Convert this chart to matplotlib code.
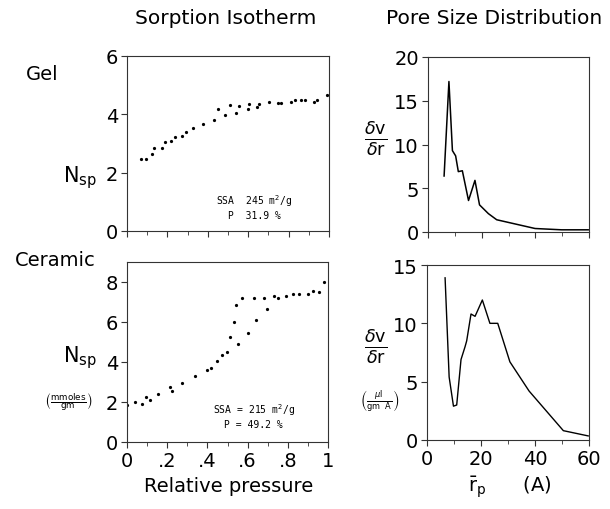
import matplotlib
matplotlib.use("Agg")
import matplotlib.pyplot as plt
from matplotlib.ticker import MultipleLocator, FixedLocator, FixedFormatter

# ---------------- data ----------------
gel_p = [0.068, 0.092, 0.122, 0.135, 0.172, 0.190, 0.218, 0.238, 0.271, 0.290,
         0.328, 0.378, 0.432, 0.452, 0.485, 0.510, 0.538, 0.556, 0.597, 0.604,
         0.645, 0.653, 0.703, 0.747, 0.762, 0.812, 0.832, 0.861, 0.881, 0.927,
         0.939, 0.989]
gel_n = [2.47, 2.47, 2.63, 2.84, 2.84, 3.06, 3.08, 3.23, 3.25, 3.38,
         3.52, 3.66, 3.81, 4.20, 3.98, 4.32, 4.04, 4.27, 4.20, 4.34,
         4.26, 4.35, 4.42, 4.38, 4.38, 4.43, 4.50, 4.50, 4.49, 4.41,
         4.48, 4.66]

cer_p = [0.000, 0.040, 0.073, 0.093, 0.114, 0.156, 0.214, 0.222, 0.275, 0.338,
         0.396, 0.418, 0.446, 0.471, 0.496, 0.512, 0.534, 0.541, 0.554, 0.574,
         0.604, 0.630, 0.642, 0.680, 0.695, 0.733, 0.750, 0.791, 0.827, 0.857,
         0.899, 0.927, 0.957, 0.980]
cer_n = [1.85, 2.02, 1.90, 2.23, 2.12, 2.40, 2.77, 2.57, 2.95, 3.28,
         3.60, 3.70, 4.07, 4.37, 4.48, 5.23, 6.02, 6.85, 4.88, 7.18,
         5.45, 7.20, 6.10, 7.20, 6.65, 7.32, 7.18, 7.32, 7.40, 7.42,
         7.40, 7.53, 7.52, 7.98]

gel_r = [6.0, 7.8, 9.1, 10.3, 11.3, 12.8, 15.1, 17.5, 19.2, 22.5, 25.6, 30.6, 39.9, 49.8, 59.7]
gel_dv = [6.4, 17.2, 9.3, 8.7, 6.9, 7.0, 3.6, 5.9, 3.1, 2.1, 1.4, 1.05, 0.4, 0.25, 0.25]

cer_r = [6.7, 8.2, 9.8, 11.0, 12.6, 14.1, 14.7, 16.3, 17.8, 20.5, 23.3, 26.2, 30.7, 37.8, 50.5, 59.7]
cer_dv = [13.9, 5.4, 2.9, 3.0, 6.9, 8.0, 8.5, 10.8, 10.6, 12.0, 10.0, 10.0, 6.7, 4.2, 0.8, 0.35]

iso_ticks = [0, 0.2, 0.4, 0.6, 0.8, 1.0]
iso_ticklabels = ["0", ".2", ".4", ".6", ".8", "1"]
psd_ticks = [0, 20, 40, 60]
psd_ticklabels = ["0", "20", "40", "60"]

# ---------------- figure ----------------
W, H = 610, 510
fig = plt.figure(figsize=(W / 100, H / 100), dpi=100)
plt.rcParams['font.family'] = ['DejaVu Sans']


def add_ax(left, right, top, bottom):
    return fig.add_axes([left / W, 1 - bottom / H, (right - left) / W, (bottom - top) / H])


def fpos(px, py):
    return px / W, 1 - py / H


def style(ax):
    for s in ax.spines.values():
        s.set_linewidth(0.8)
        s.set_color('#333333')
    ax.tick_params(which='both', direction='out', labelsize=14, pad=2.5, color='#333333')
    ax.tick_params(which='major', length=4)
    ax.tick_params(which='minor', length=3)


ax1 = add_ax(127, 329, 57, 232)
ax2 = add_ax(127, 328, 263, 443)
ax3 = add_ax(428, 589, 58, 233)
ax4 = add_ax(427, 589, 266, 441)

small = dict(fontsize=7, family='DejaVu Sans Mono', ha='center', va='center')

# Gel isotherm
ax1.plot(gel_p, gel_n, ls='none', marker='.', ms=2.6, color='black')
ax1.set_xlim(0, 1)
ax1.set_ylim(0, 6)
ax1.set_yticks([0, 2, 4, 6])
ax1.xaxis.set_major_locator(FixedLocator(iso_ticks))
ax1.xaxis.set_minor_locator(MultipleLocator(0.1))
ax1.set_xticklabels([])
ax1.text(0.63, 0.175, "SSA  245 m$^{2}$/g", transform=ax1.transAxes, **small)
ax1.text(0.63, 0.09, "P  31.9 %", transform=ax1.transAxes, **small)

# Ceramic isotherm
ax2.plot(cer_p, cer_n, ls='none', marker='.', ms=2.6, color='black')
ax2.set_xlim(0, 1)
ax2.set_ylim(0, 9)
ax2.set_yticks([0, 2, 4, 6, 8])
ax2.xaxis.set_major_locator(FixedLocator(iso_ticks))
ax2.xaxis.set_major_formatter(FixedFormatter(iso_ticklabels))
ax2.xaxis.set_minor_locator(MultipleLocator(0.1))
ax2.text(0.63, 0.183, "SSA = 215 m$^{2}$/g", transform=ax2.transAxes, **small)
ax2.text(0.63, 0.10, "P = 49.2 %", transform=ax2.transAxes, **small)

# Gel PSD
ax3.plot(gel_r, gel_dv, color='black', lw=1.1)
ax3.set_xlim(0, 60)
ax3.set_ylim(0, 20)
ax3.set_yticks([0, 5, 10, 15, 20])
ax3.xaxis.set_major_locator(FixedLocator(psd_ticks))
ax3.xaxis.set_minor_locator(MultipleLocator(10))
ax3.set_xticklabels([])

# Ceramic PSD
ax4.plot(cer_r, cer_dv, color='black', lw=1.0)
ax4.set_xlim(0, 60)
ax4.set_ylim(0, 15)
ax4.set_yticks([0, 5, 10, 15])
ax4.xaxis.set_major_locator(FixedLocator(psd_ticks))
ax4.xaxis.set_major_formatter(FixedFormatter(psd_ticklabels))
ax4.xaxis.set_minor_locator(MultipleLocator(10))

for ax in (ax1, ax2, ax3, ax4):
    style(ax)

# ---------------- figure texts ----------------
fig.text(*fpos(226, 18), "Sorption Isotherm", ha='center', va='center', fontsize=14.5)
fig.text(*fpos(494, 18), "Pore Size Distribution", ha='center', va='center', fontsize=14.5)
fig.text(*fpos(42, 75), "Gel", ha='center', va='center', fontsize=14)
fig.text(*fpos(55, 261), "Ceramic", ha='center', va='center', fontsize=14)
fig.text(*fpos(80, 178), r"N$_{\mathrm{sp}}$", ha='center', va='center', fontsize=15)
fig.text(*fpos(80, 358), r"N$_{\mathrm{sp}}$", ha='center', va='center', fontsize=15)
fig.text(*fpos(68, 402), r"$\left(\frac{\mathrm{mmoles}}{\mathrm{gm}}\right)$", ha='center', va='center', fontsize=9)
fig.text(*fpos(376, 139), r"$\frac{\delta\mathrm{v}}{\delta\mathrm{r}}$", ha='center', va='center', fontsize=18)
fig.text(*fpos(376, 347), r"$\frac{\delta\mathrm{v}}{\delta\mathrm{r}}$", ha='center', va='center', fontsize=18)
fig.text(*fpos(380, 401), r"$\left(\frac{\mu\mathrm{l}}{\mathrm{gm}\ \ \mathrm{A}}\right)$", ha='center', va='center', fontsize=8.5)
fig.text(*fpos(229, 487), "Relative pressure", ha='center', va='center', fontsize=14)
fig.text(*fpos(510, 487), r"$\bar{\mathrm{r}}_{\mathrm{p}}$      (A)", ha='center', va='center', fontsize=14)

fig.savefig("out.png", dpi=100)
